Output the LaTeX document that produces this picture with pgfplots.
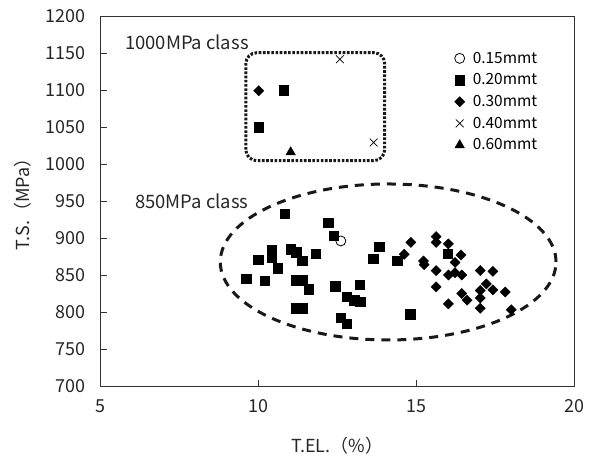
\documentclass[border=0pt]{standalone}
\usepackage{fontspec}
\setmainfont{Noto Sans CJK JP}
\usepackage{pgfplots}
\pgfplotsset{compat=1.18}
\begin{document}
\begin{tikzpicture}
\useasboundingbox (-100.7bp,-74bp) rectangle (494.3bp,386bp);
\begin{axis}[
  scale only axis, width=473.3bp, height=370bp,
  xmin=5, xmax=20, ymin=700, ymax=1200,
  xtick={5,10,15,20}, ytick={700,750,...,1200},
  tick align=inside, xtick pos=bottom, ytick pos=left,
  major tick length=6bp,
  axis line style={line width=0.8bp, black!80},
  tick style={line width=0.8bp, black!80},
  /pgf/number format/assume math mode=true,
  /pgf/number format/1000 sep={},
  ticklabel style={font=\fontsize{18}{21}\selectfont, text=black!85},
  yticklabel style={xshift=-12bp},
  xticklabel style={yshift=-10bp},
  xlabel={T.EL.（\%）},
  ylabel={T.S.（MPa）},
  xlabel style={at={(axis description cs:0.5,-0.181)}, anchor=base, font=\fontsize{18}{20}\selectfont, text=black!85},
  ylabel style={at={(axis description cs:-0.164,0.503)}, anchor=center, font=\fontsize{18}{20}\selectfont, text=black!85},
  legend style={at={(axis description cs:0.741,0.914)}, anchor=north west, draw=none, fill=none,
    font=\fontsize{15.5}{17}\selectfont, row sep=5bp, column sep=6bp},
  legend cell align=left,
  clip=false,
]
% 0.15 mmt
\addplot[only marks, mark=o, mark size=5bp, line width=0.8bp, black] coordinates {(12.61,896)};
\addlegendentry{0.15mmt}
% 0.20 mmt
\addplot[only marks, mark=square*, mark size=4.7bp, black] coordinates {
(10.8,1100) (10.01,1050)
(10.84,933) (12.21,921) (12.39,903) (10.41,884) (10.41,873)
(11.02,885) (11.2,881) (11.39,869) (11.81,879) (9.99,871)
(10.61,859) (9.61,845) (10.2,842) (11.18,843) (11.41,843)
(11.6,831) (11.18,805) (11.41,805) (12.43,835) (12.6,792)
(12.8,784) (13.83,888) (13.63,872) (14.4,869) (16.0,879)
(13.21,837) (12.8,821) (13.03,816) (13.22,814) (14.81,797)
};
\addlegendentry{0.20mmt}
% 0.30 mmt
\addplot[only marks, mark=square*, mark size=3.6bp, mark options={rotate=45}, black] coordinates {
(10.01,1099)
(14.83,894) (14.62,878) (15.23,869) (15.25,864) (15.63,902) (15.63,894)
(15.63,856) (15.63,834) (16.02,892) (16.42,877) (16.23,867) (16.02,850)
(16.23,853) (16.44,850) (17.03,856) (17.43,855) (16.44,825) (16.61,816)
(16.02,811) (17.03,829) (17.22,838) (17.43,830) (17.03,819) (17.82,827)
(17.03,805) (18.01,803)
};
\addlegendentry{0.30mmt}
% 0.40 mmt
\addplot[only marks, mark=x, mark size=5.5bp, line width=0.7bp, black] coordinates {(12.58,1141.5) (13.65,1029)};
\addlegendentry{0.40mmt}
% 0.60 mmt
\addplot[only marks, mark=triangle*, mark size=5.5bp, black] coordinates {(11.02,1016)};
\addlegendentry{0.60mmt}

\draw[black!90, line width=3bp, dash pattern=on 2.6bp off 1.6bp, rounded corners=11bp]
  (axis cs:9.6,1004.5) rectangle (axis cs:14.0,1150.4);
\draw[black!90, line width=3bp, dash pattern=on 9bp off 7bp]
  (axis cs:14.11,867.6) ellipse [x radius=5.32, y radius=105.4];
\node[anchor=west, inner sep=0pt, font=\fontsize{18.5}{21}\selectfont, text=black!85] at (axis cs:5.77,1164.9) {1000MPa class};
\node[anchor=west, inner sep=0pt, font=\fontsize{18.5}{21}\selectfont, text=black!85] at (axis cs:6.09,950) {850MPa class};
\end{axis}
\end{tikzpicture}
\end{document}
